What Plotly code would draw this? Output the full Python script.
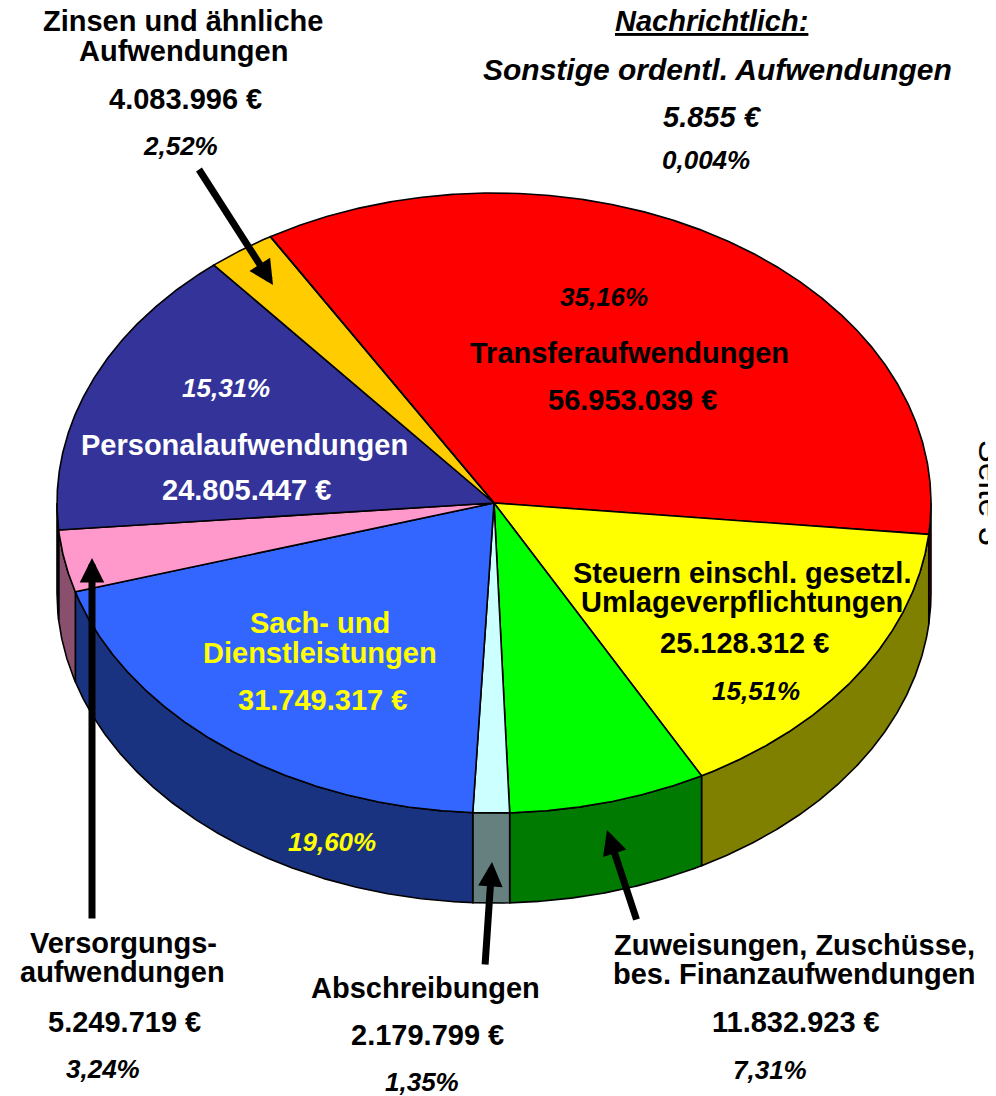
import numpy as np
import plotly.graph_objects as go

# ---------------- data ----------------
categories = [
    "Transferaufwendungen",
    "Steuern einschl. gesetzl. Umlageverpflichtungen",
    "Zuweisungen, Zuschüsse, bes. Finanzaufwendungen",
    "Abschreibungen",
    "Sach- und Dienstleistungen",
    "Versorgungsaufwendungen",
    "Personalaufwendungen",
    "Zinsen und ähnliche Aufwendungen",
    "Sonstige ordentl. Aufwendungen",
]
values = [56953039, 25128312, 11832923, 2179799, 31749317, 5249719, 24805447, 4083996, 5855]
percent_labels = ["35,16%", "15,51%", "7,31%", "1,35%", "19,60%", "3,24%", "15,31%", "2,52%", "0,004%"]
value_labels = [f"{v:,}".replace(",", ".") + " €" for v in values]

# ---------------- style ----------------
top_colors = ["#FF0000", "#FFFF00", "#00FF00", "#CCFFFF", "#3366FF", "#FF99CC", "#333399", "#FFCC00", "#FFFFFF"]
side_colors = ["#B00000", "#808000", "#007A00", "#668080", "#1A3380", "#8B4F6E", "#1A1A4D", "#806600", "#808080"]

PAGE_W, PAGE_H = 996, 1096
OFF = 8  # default body margin of the page
cx, cy, rx, ry, depth = 494, 503, 437, 310, 90
start_angle = 120.77  # degrees, slices run clockwise

FONT = "Liberation Sans, Arial, sans-serif"
NAME_SIZE = 29
PCT_SIZE = 26


def ell(theta_deg, dy=0.0):
    t = np.radians(theta_deg)
    return cx + rx * np.cos(t), cy - ry * np.sin(t) + dy


total = float(sum(values))
spans = [v / total * 360.0 for v in values]
bounds = []
a = start_angle
for s in spans:
    bounds.append((a - s, a))
    a -= s

fig = go.Figure()

# side walls (front half: angles in [-180, 0])
for i, (lo, hi) in enumerate(bounds):
    for k in (-1, 0, 1):
        l = max(lo + 360 * k, -180.0)
        h = min(hi + 360 * k, 0.0)
        if h - l > 1e-6:
            th = np.linspace(h, l, max(int((h - l) * 4), 2))
            xt, yt = ell(th)
            xb, yb = ell(th[::-1], depth)
            xs = np.concatenate([xt, xb, xt[:1]])
            ys = np.concatenate([yt, yb, yt[:1]])
            fig.add_trace(go.Scatter(
                x=xs, y=ys, mode="lines", fill="toself",
                fillcolor=side_colors[i], line=dict(color="black", width=1.6),
                name=categories[i], hoverinfo="name", showlegend=False))

# top faces
for i, (lo, hi) in enumerate(bounds):
    th = np.linspace(hi, lo, max(int((hi - lo) * 4), 2))
    xa, ya = ell(th)
    xs = np.concatenate([[cx], xa, [cx]])
    ys = np.concatenate([[cy], ya, [cy]])
    fig.add_trace(go.Scatter(
        x=xs, y=ys, mode="lines", fill="toself",
        fillcolor=top_colors[i], line=dict(color="black", width=1.6),
        name=categories[i], text=f"{value_labels[i]} ({percent_labels[i]})",
        hoverinfo="name+text", showlegend=False))

# ---------------- labels ----------------
N, P = NAME_SIZE, PCT_SIZE
# (text, x, y, size, color, bold, italic)
label_lines = {
    0: [("{p}", 604, 297, P, "black", True, True),
        ("Transferaufwendungen", 629, 353, N, "black", True, False),
        ("{v}", 632, 400, N, "black", True, False)],
    1: [("Steuern einschl. gesetzl.", 742, 573, N, "black", True, False),
        ("Umlageverpflichtungen", 742, 602, N, "black", True, False),
        ("{v}", 744, 643, N, "black", True, False),
        ("{p}", 756, 691, P, "black", True, True)],
    2: [("Zuweisungen, Zuschüsse,", 794, 945, N, "black", True, False),
        ("bes. Finanzaufwendungen", 794, 974, N, "black", True, False),
        ("{v}", 796, 1022, N, "black", True, False),
        ("{p}", 770, 1070, P, "black", True, True)],
    3: [("Abschreibungen", 425, 988, N, "black", True, False),
        ("{v}", 427, 1035, N, "black", True, False),
        ("{p}", 422, 1082, P, "black", True, True)],
    4: [("Sach- und", 320, 623, N, "#FFFF00", True, False),
        ("Dienstleistungen", 320, 653, N, "#FFFF00", True, False),
        ("{v}", 322, 700, N, "#FFFF00", True, False),
        ("{p}", 332, 842, P, "#FFFF00", True, True)],
    5: [("Versorgungs-", 123, 943, N, "black", True, False),
        ("aufwendungen", 122, 972, N, "black", True, False),
        ("{v}", 124, 1022, N, "black", True, False),
        ("{p}", 103, 1069, P, "black", True, True)],
    6: [("{p}", 226, 388, P, "white", True, True),
        ("Personalaufwendungen", 244, 445, N, "white", True, False),
        ("{v}", 246, 490, N, "white", True, False)],
    7: [("Zinsen und ähnliche", 183, 21, N, "black", True, False),
        ("Aufwendungen", 183, 51, N, "black", True, False),
        ("{v}", 185, 99, N, "black", True, False),
        ("{p}", 180, 146, P, "black", True, True)],
    8: [("<u>Nachrichtlich:</u>", 711, 21, N, "black", True, True),
        ("Sonstige ordentl. Aufwendungen", 717, 69, 30, "black", True, True),
        ("{v}", 712, 117, N, "black", True, True),
        ("{p}", 706, 160, P, "black", True, True)],
}

annotations = []
for i, lines in label_lines.items():
    for (txt, x, y, size, color, bold, italic) in lines:
        t = txt.replace("{p}", percent_labels[i]).replace("{v}", value_labels[i])
        if italic:
            t = f"<i>{t}</i>"
        if bold:
            t = f"<b>{t}</b>"
        annotations.append(dict(
            x=x, y=y, xref="x", yref="y", text=t, showarrow=False,
            xanchor="center", yanchor="middle",
            font=dict(family=FONT, size=size, color=color)))

# arrows: (tip x, tip y, tail x, tail y)
arrows = [(273, 285, 198, 168), (92, 558, 92, 920), (492, 862, 485, 966), (607, 830, 637, 921)]
for (x, y, axx, ayy) in arrows:
    annotations.append(dict(
        x=x, y=y, ax=axx, ay=ayy, xref="x", yref="y", axref="x", ayref="y",
        text="", showarrow=True, arrowhead=2, arrowsize=0.7, arrowwidth=7,
        arrowcolor="black", standoff=0))

# page label at the right edge (cut off)
annotations.append(dict(
    x=991, y=493, xref="x", yref="y", text="Seite 3", showarrow=False,
    textangle=90, xanchor="center", yanchor="middle",
    font=dict(family=FONT, size=34, color="black")))

fig.update_layout(
    width=PAGE_W - OFF, height=PAGE_H - OFF,
    margin=dict(l=0, r=0, t=0, b=0),
    paper_bgcolor="white", plot_bgcolor="white",
    xaxis=dict(range=[OFF, PAGE_W], visible=False, fixedrange=True),
    yaxis=dict(range=[PAGE_H, OFF], visible=False, fixedrange=True),
    annotations=annotations,
    showlegend=False,
)

fig.write_html("out.html")
